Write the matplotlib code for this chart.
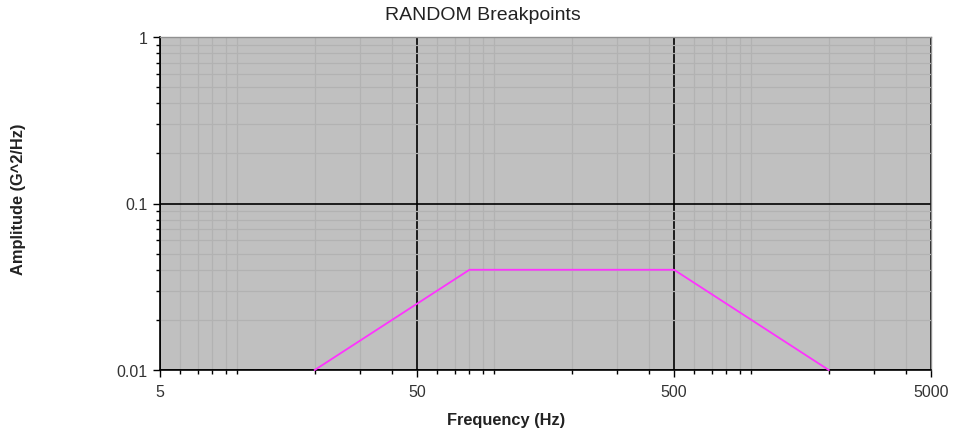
import matplotlib
matplotlib.use("Agg")
import matplotlib.pyplot as plt
from matplotlib.ticker import LogLocator, NullFormatter

plt.rcParams['font.family'] = ['Liberation Sans', 'DejaVu Sans']

freq = [20, 80, 500, 2000]
amp = [0.01, 0.04, 0.04, 0.01]
x_ticks = [5, 50, 500, 5000]
x_tick_labels = ["5", "50", "500", "5000"]
y_ticks = [0.01, 0.1, 1]
y_tick_labels = ["0.01", "0.1", "1"]

fig = plt.figure(figsize=(9.54, 4.39), dpi=100)
ax = fig.add_axes([160/954, 1-371/439, (931-160)/954, (371-38)/439])
ax.set_facecolor('#c0c0c0')
ax.set_xscale('log')
ax.set_yscale('log')
ax.set_xlim(5, 5000)
ax.set_ylim(0.01, 1)

ax.set_xticks(x_ticks)
ax.set_xticklabels(x_tick_labels)
ax.set_yticks(y_ticks)
ax.set_yticklabels(y_tick_labels)
ax.xaxis.set_minor_locator(LogLocator(base=10, subs=range(1, 10)))
ax.yaxis.set_minor_locator(LogLocator(base=10, subs=range(1, 10)))
ax.xaxis.set_minor_formatter(NullFormatter())
ax.yaxis.set_minor_formatter(NullFormatter())

ax.grid(which='minor', color='#b2b2b2', linewidth=0.9)
ax.grid(which='major', color='black', linewidth=1.2)
ax.set_axisbelow(True)

ax.tick_params(which='both', direction='out', color='black', labelsize=11.5, labelcolor='#333333')
ax.tick_params(which='major', length=5, width=1)
ax.tick_params(which='minor', length=3, width=1)
ax.tick_params(axis='x', pad=5)
ax.tick_params(axis='y', pad=4)

for s in ['left', 'bottom']:
    ax.spines[s].set_color('black')
    ax.spines[s].set_linewidth(1.2)
for s in ['top', 'right']:
    ax.spines[s].set_color('#909090')
    ax.spines[s].set_linewidth(1.0)

ax.plot(freq, amp, color='#ff33ff', linewidth=1.3, zorder=3, clip_on=False)

fig.text(483/954, 1-16/439, "RANDOM Breakpoints", ha='center', va='center', fontsize=14, color='#222222')
fig.text(506/954, 1-421/439, "Frequency (Hz)", ha='center', va='center', fontsize=11.8, fontweight='bold', color='#222222')
fig.text(19/954, 1-199/439, "Amplitude (G^2/Hz)", ha='center', va='center', rotation=90, fontsize=11.8, fontweight='bold', color='#222222')

fig.savefig('out.png', dpi=100)
